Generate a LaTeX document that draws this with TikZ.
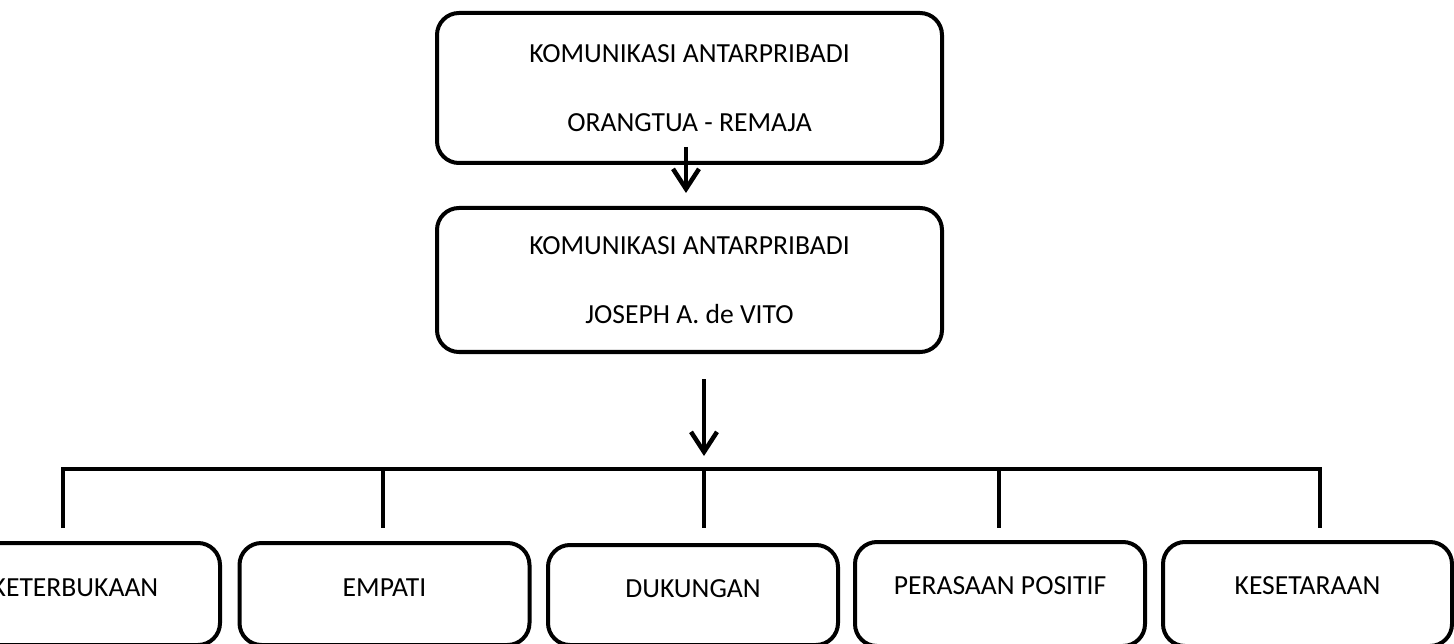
\documentclass[tikz,border=0pt]{standalone}
\usepackage{fontspec}
\setmainfont{Carlito}
\usetikzlibrary{arrows.meta,calc}
\begin{document}
\begin{tikzpicture}[x=1pt,y=-1pt,
  box/.style={draw=black,line width=4pt,rounded corners=22pt,inner sep=0pt,font=\fontsize{27.6}{27.6}\selectfont},
  topbox/.style={box,minimum width=505pt,minimum height=150pt,align=center},
  leaf/.style={box,minimum width=290pt,minimum height=102pt},
  conn/.style={line width=4pt,black},
  arr/.style={conn,-{Straight Barb[length=20pt,width=26pt,line width=4.5pt]}}]
\useasboundingbox (0,0) rectangle (1454,644);
\node[topbox] (a) at (689.5,88) {KOMUNIKASI ANTARPRIBADI\\[41pt]ORANGTUA - REMAJA};
\node[topbox,minimum height=144pt] (b) at (689.5,280) {KOMUNIKASI ANTARPRIBADI\\[41pt]JOSEPH A. de VITO};
\node[leaf] (k1) at (75,594) {\raisebox{13pt}{KETERBUKAAN}};
\node[leaf] (k2) at (384.5,594) {\raisebox{13pt}{EMPATI}};
\node[leaf,minimum height=100pt] (k3) at (693,595) {\raisebox{13pt}{DUKUNGAN}};
\node[leaf,minimum height=104pt] (k4) at (1000,594) {\raisebox{16pt}{PERASAAN POSITIF}};
\node[leaf,minimum width=289pt,minimum height=104pt] (k5) at (1307.5,594) {\raisebox{16pt}{KESETARAAN}};
\draw[arr] ($(a.south)+(-3.5,-18)$) -- ($(b.north)+(-3.5,-13)$);
\coordinate (hub) at (704,469);
\coordinate (src) at (704,379);
\draw[arr] (src) -- ($(hub)+(0,-13)$);
\coordinate (t1) at (63,469); \coordinate (d1) at (63,528);
\coordinate (t2) at (383,469); \coordinate (d2) at (383,528);
\coordinate (t3) at (704,469); \coordinate (d3) at (704,528);
\coordinate (t4) at (999,469); \coordinate (d4) at (999,528);
\coordinate (t5) at (1320,469); \coordinate (d5) at (1320,528);
\draw[conn] (d1) -- (t1) -- (t5) -- (d5);
\draw[conn] (t2) -- (d2);
\draw[conn] (t3) -- (d3);
\draw[conn] (t4) -- (d4);
\end{tikzpicture}
\end{document}
